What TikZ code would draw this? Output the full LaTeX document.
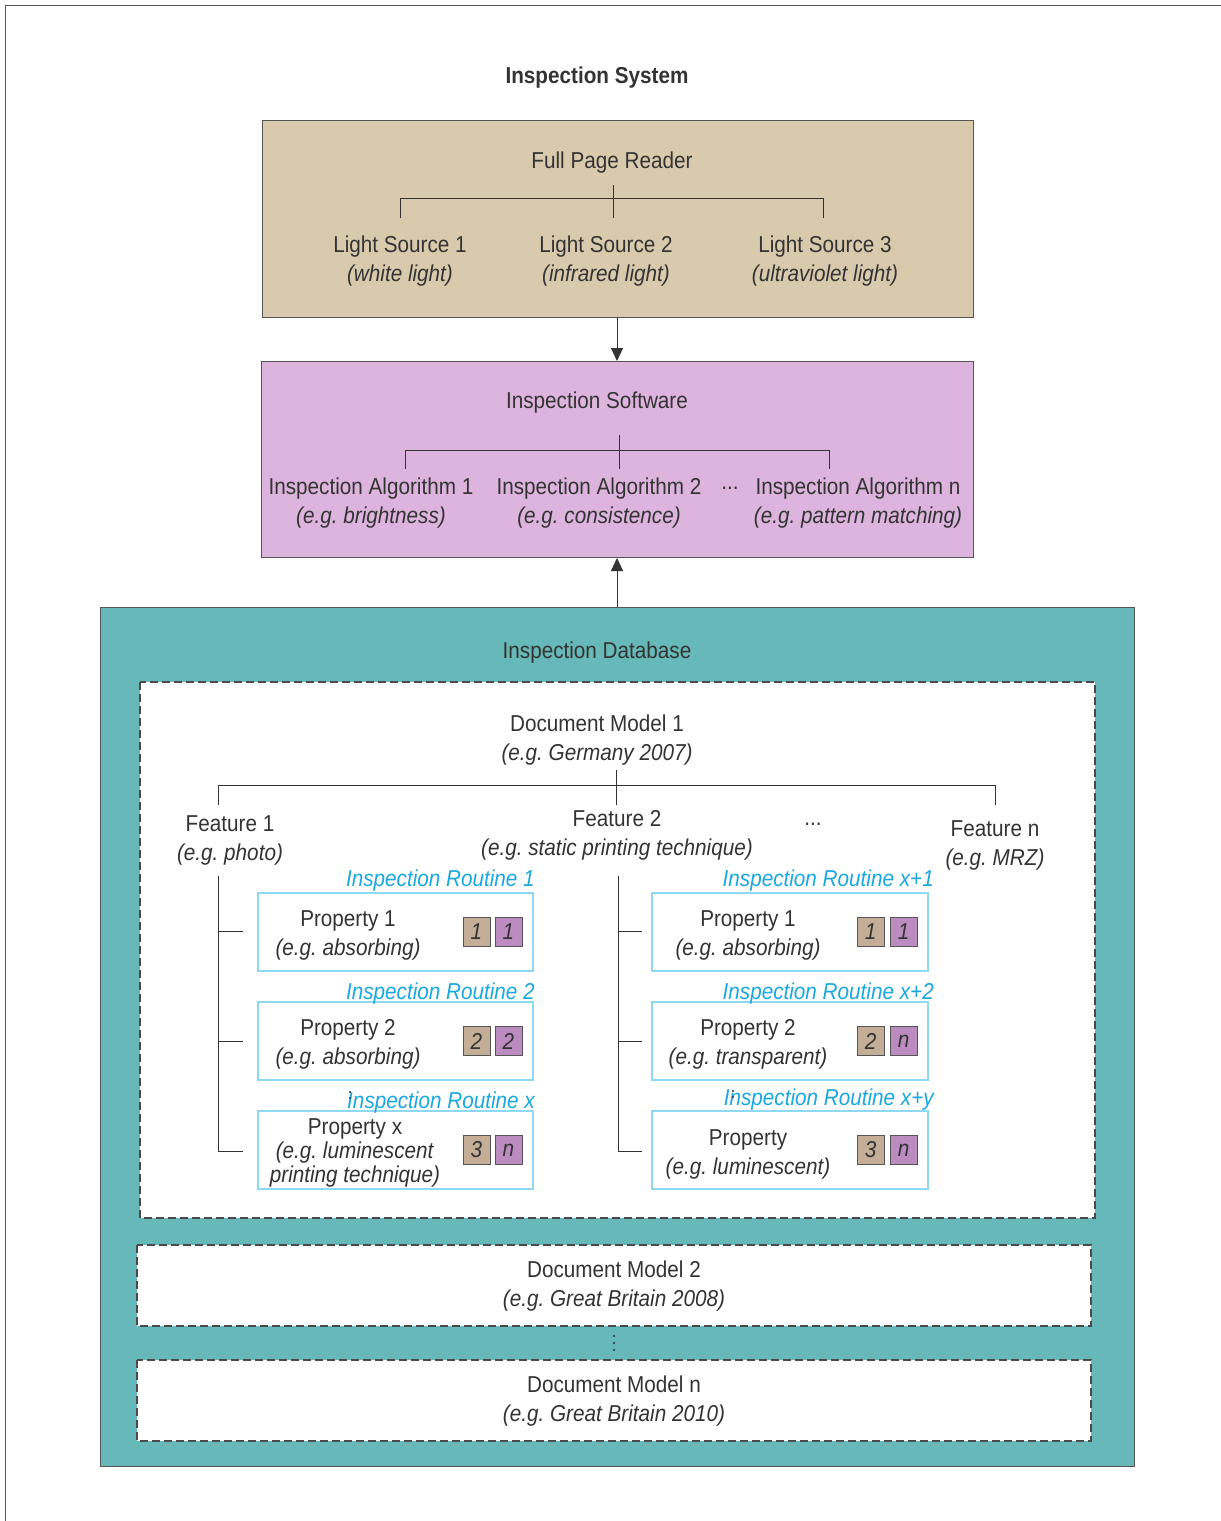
\documentclass[tikz,border=0pt]{standalone}
\usepackage{fontspec}
\setmainfont{Liberation Sans}[FakeStretch=0.9]
\usetikzlibrary{arrows.meta}
\frenchspacing
\definecolor{txt}{HTML}{333333}
\definecolor{frame}{HTML}{555555}
\definecolor{dash}{HTML}{4A4A4A}
\definecolor{tanbox}{HTML}{D9C9AD}
\definecolor{purbox}{HTML}{DCB4DE}
\definecolor{tealbox}{HTML}{67B8B8}
\definecolor{propline}{HTML}{8ED8F2}
\definecolor{routine}{HTML}{1BA8E0}
\definecolor{tansq}{HTML}{C4AE98}
\definecolor{pursq}{HTML}{BC8CC0}
\tikzset{
  lbl/.style={font=\fontsize{23}{29}\selectfont, text=txt, inner sep=0pt, align=center, yshift=-2.5pt},
  ttl/.style={font=\fontsize{23}{29}\selectfont\bfseries, text=txt, inner sep=0pt, yshift=-2.5pt},
  rt/.style={font=\fontsize{23}{29}\selectfont\itshape, text=routine, inner sep=0pt, anchor=east, yshift=-2.5pt},
  bigbox/.style={draw=frame, line width=1pt},
  dmbox/.style={draw=dash, line width=1.5pt, dash pattern=on 8pt off 4pt, fill=white},
  propbox/.style={draw=propline, line width=2pt, fill=white},
  sqA/.style={draw=frame, line width=1pt, fill=tansq, minimum width=27pt, minimum height=29pt, inner sep=0pt, text=txt, font=\fontsize{23}{29}\selectfont\itshape},
  sqB/.style={sqA, fill=pursq},
  tree/.style={draw=txt, line width=1pt},
  arr/.style={draw=txt, line width=1pt, -{Triangle[length=13pt,width=12pt]}}
}
\begin{document}
\begin{tikzpicture}[x=1pt,y=-1pt]
\useasboundingbox (0,0) rectangle (1221,1521);
\draw[frame, line width=1pt] (5,1521) -- (5,5) -- (1221,5);

\node[ttl] (title) at (597,75) {Inspection System};

% Full Page Reader
\draw[bigbox, fill=tanbox] (262,120) rectangle (973,317);
\coordinate (fprB) at (617,317);
\node[lbl] (fpr) at (612,160) {Full Page Reader};
\coordinate (t1top) at (613,185);
\coordinate (t1bot) at (613,218);
\coordinate (t1l) at (400,198);
\coordinate (t1lb) at (400,218);
\coordinate (t1r) at (823,198);
\coordinate (t1rb) at (823,218);
\draw[tree] (t1top) -- (t1bot);
\draw[tree] (t1lb) -- (t1l) -- (t1r) -- (t1rb);
\node[lbl] (ls1) at (400,259) {Light Source 1\\\textit{(white light)}};
\node[lbl] (ls2) at (606,259) {Light Source 2\\\textit{(infrared light)}};
\node[lbl] (ls3) at (825,259) {Light Source 3\\\textit{(ultraviolet light)}};

% Inspection Software
\draw[bigbox, fill=purbox] (261,361) rectangle (973,557);
\coordinate (isT) at (617,361);
\coordinate (isB) at (617,558);
\draw[arr] (fprB) -- (isT);
\node[lbl] (is) at (597,400) {Inspection Software};
\coordinate (t2top) at (619,435);
\coordinate (t2bot) at (619,469);
\coordinate (t2l) at (405,450);
\coordinate (t2lb) at (405,469);
\coordinate (t2r) at (829,450);
\coordinate (t2rb) at (829,469);
\draw[tree] (t2top) -- (t2bot);
\draw[tree] (t2lb) -- (t2l) -- (t2r) -- (t2rb);
\node[lbl] (ia1) at (371,501) {Inspection Algorithm 1\\\textit{(e.g. brightness)}};
\node[lbl] (ia2) at (599,501) {Inspection Algorithm 2\\\textit{(e.g. consistence)}};
\node[lbl] (iadots) at (730,486) {...};
\node[lbl] (ian) at (858,501) {Inspection Algorithm n\\\textit{(e.g. pattern matching)}};

% Inspection Database
\draw[bigbox, fill=tealbox] (100,607) rectangle (1134,1466);
\coordinate (dbT) at (617,607);
\draw[arr] (dbT) -- (isB);
\node[lbl] (db) at (597,650) {Inspection Database};

% Document Model 1
\draw[dmbox] (140,682) rectangle (1095,1218);
\node[lbl] (dm1) at (597,738) {Document Model 1\\\textit{(e.g. Germany 2007)}};
\coordinate (t3top) at (616,770);
\coordinate (t3bot) at (616,805);
\coordinate (t3l) at (218,785);
\coordinate (t3lb) at (218,805);
\coordinate (t3r) at (995,785);
\coordinate (t3rb) at (995,805);
\draw[tree] (t3top) -- (t3bot);
\draw[tree] (t3lb) -- (t3l) -- (t3r) -- (t3rb);
\node[lbl] (f1) at (230,838) {Feature 1\\\textit{(e.g. photo)}};
\node[lbl] (f2) at (617,833) {Feature 2\\\textit{(e.g. static printing technique)}};
\node[lbl] (fdots) at (813,822) {...};
\node[lbl] (fn) at (995,843) {Feature n\\\textit{(e.g. MRZ)}};

% brackets
\coordinate (lbT) at (218,876);
\coordinate (lbB) at (218,1151);
\coordinate (lbE) at (243,1151);
\draw[tree] (lbT) -- (lbB) -- (lbE);
\coordinate (lt1) at (218,931); \coordinate (lt1e) at (243,931);
\coordinate (lt2) at (218,1041); \coordinate (lt2e) at (243,1041);
\draw[tree] (lt1) -- (lt1e);
\draw[tree] (lt2) -- (lt2e);
\coordinate (rbT) at (618,876);
\coordinate (rbB) at (618,1151);
\coordinate (rbE) at (642,1151);
\draw[tree] (rbT) -- (rbB) -- (rbE);
\coordinate (rt1) at (618,931); \coordinate (rt1e) at (642,931);
\coordinate (rt2) at (618,1041); \coordinate (rt2e) at (642,1041);
\draw[tree] (rt1) -- (rt1e);
\draw[tree] (rt2) -- (rt2e);

% property boxes
\draw[propbox] (258,893) rectangle (533,971);
\draw[propbox] (258,1002) rectangle (533,1080);
\draw[propbox] (258,1111) rectangle (533,1189);
\draw[propbox] (652,893) rectangle (928,971);
\draw[propbox] (652,1002) rectangle (928,1080);
\draw[propbox] (652,1111) rectangle (928,1189);

% routine labels
\node[rt] (r1) at (535,878) {Inspection Routine 1};
\node[rt] (r2) at (535,991) {Inspection Routine 2};
\node[rt] (rx) at (535,1100) {Inspection Routine x};
\node[rt] (rx1) at (934,878) {Inspection Routine x+1};
\node[rt] (rx2) at (934,991) {Inspection Routine x+2};
\node[rt] (rxy) at (934,1097) {Inspection Routine x+y};
\fill[txt] (350,1092) circle (1.2pt) (350,1098) circle (1.2pt);
\fill[txt] (733,1091) circle (1.2pt) (733,1097) circle (1.2pt);

% property texts
\node[lbl] (p1) at (348,933) {Property 1\\\textit{(e.g. absorbing)}};
\node[lbl] (p2) at (348,1042) {Property 2\\\textit{(e.g. absorbing)}};
\node[lbl, font=\fontsize{23}{24}\selectfont] (px) at (355,1150) {Property x\\\textit{(e.g. luminescent}\\\textit{printing technique)}};
\node[lbl] (q1) at (748,933) {Property 1\\\textit{(e.g. absorbing)}};
\node[lbl] (q2) at (748,1042) {Property 2\\\textit{(e.g. transparent)}};
\node[lbl] (qy) at (748,1152) {Property\\\textit{(e.g. luminescent)}};

% squares
\node[sqA] (s1a) at (476.5,931.5) {1};
\node[sqB] (s1b) at (508.5,931.5) {1};
\node[sqA] (s2a) at (476.5,1041) {2};
\node[sqB] (s2b) at (508.5,1041) {2};
\node[sqA] (s3a) at (476.5,1150) {3};
\node[sqB] (s3b) at (508.5,1150) {n};
\node[sqA] (u1a) at (870.5,931.5) {1};
\node[sqB] (u1b) at (903.5,931.5) {1};
\node[sqA] (u2a) at (870.5,1041) {2};
\node[sqB] (u2b) at (903.5,1041) {n};
\node[sqA] (u3a) at (870.5,1150) {3};
\node[sqB] (u3b) at (903.5,1150) {n};

% Document Model 2 and n
\draw[dmbox] (137,1245) rectangle (1091,1326);
\node[lbl] (dm2) at (614,1284) {Document Model 2\\\textit{(e.g. Great Britain 2008)}};
\fill[txt] (614,1336) circle (1.2pt) (614,1343) circle (1.2pt) (614,1350) circle (1.2pt);
\draw[dmbox] (137,1360) rectangle (1091,1441);
\node[lbl] (dmn) at (614,1399) {Document Model n\\\textit{(e.g. Great Britain 2010)}};
\end{tikzpicture}
\end{document}
